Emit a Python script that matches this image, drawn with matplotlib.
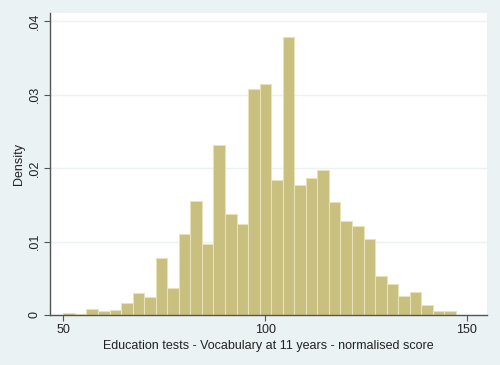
import numpy as np
import matplotlib
matplotlib.use('Agg')
import matplotlib.pyplot as plt
from matplotlib.ticker import FuncFormatter

# Histogram of vocabulary scores (density per bin)
bin_low = 50.0
bin_high = 147.3
densities = [0.00023, 0.0001, 0.00078, 0.00059, 0.00068, 0.0016, 0.0030, 0.0024,
             0.0077, 0.0037, 0.0110, 0.0155, 0.0096, 0.0231, 0.0137, 0.0124,
             0.0308, 0.0314, 0.0184, 0.0378, 0.0177, 0.0187, 0.0197, 0.0154,
             0.0128, 0.0121, 0.0104, 0.0053, 0.0042, 0.0026, 0.0031, 0.0013,
             0.0006, 0.0006]
x_ticks = [50, 100, 150]
y_ticks = [0, 0.01, 0.02, 0.03, 0.04]

plt.rcParams['font.family'] = ['Liberation Sans', 'DejaVu Sans']

edges = np.linspace(bin_low, bin_high, len(densities) + 1)
widths = np.diff(edges)

fig = plt.figure(figsize=(5, 3.65), dpi=100)
fig.patch.set_facecolor('#eaf2f3')
ax = fig.add_axes([0.1, 0.137, 0.874, 0.827])
ax.set_facecolor('white')

ax.bar(edges[:-1], densities, width=widths, align='edge',
       color='#c9bf7f', edgecolor='#e8e2b8', linewidth=0.8, zorder=2)

ax.set_xlim(46.7, 155.0)
ax.set_ylim(0, 0.0411)
ax.set_xticks(x_ticks)
ax.set_yticks(y_ticks)

def fmt(v, pos):
    if v == 0:
        return '0'
    return ('%g' % v).lstrip('0')

ax.yaxis.set_major_formatter(FuncFormatter(fmt))
ax.grid(axis='y', color='#eaf2f3', linewidth=1.0, zorder=0)

for s in ['top', 'right']:
    ax.spines[s].set_visible(False)
for s in ['left', 'bottom']:
    ax.spines[s].set_color('#555555')
    ax.spines[s].set_linewidth(1.0)

ax.tick_params(axis='both', colors='#555555', labelcolor='#222222',
               labelsize=9, length=4, width=0.8, pad=2.5)
plt.setp(ax.get_yticklabels(), rotation=90, va='center')

ax.set_xlabel('Education tests - Vocabulary at 11 years - normalised score',
              fontsize=9, color='#222222', labelpad=3)
ax.set_ylabel('Density', fontsize=9, color='#222222', labelpad=3)

fig.savefig('out.png', dpi=100, facecolor=fig.get_facecolor())
